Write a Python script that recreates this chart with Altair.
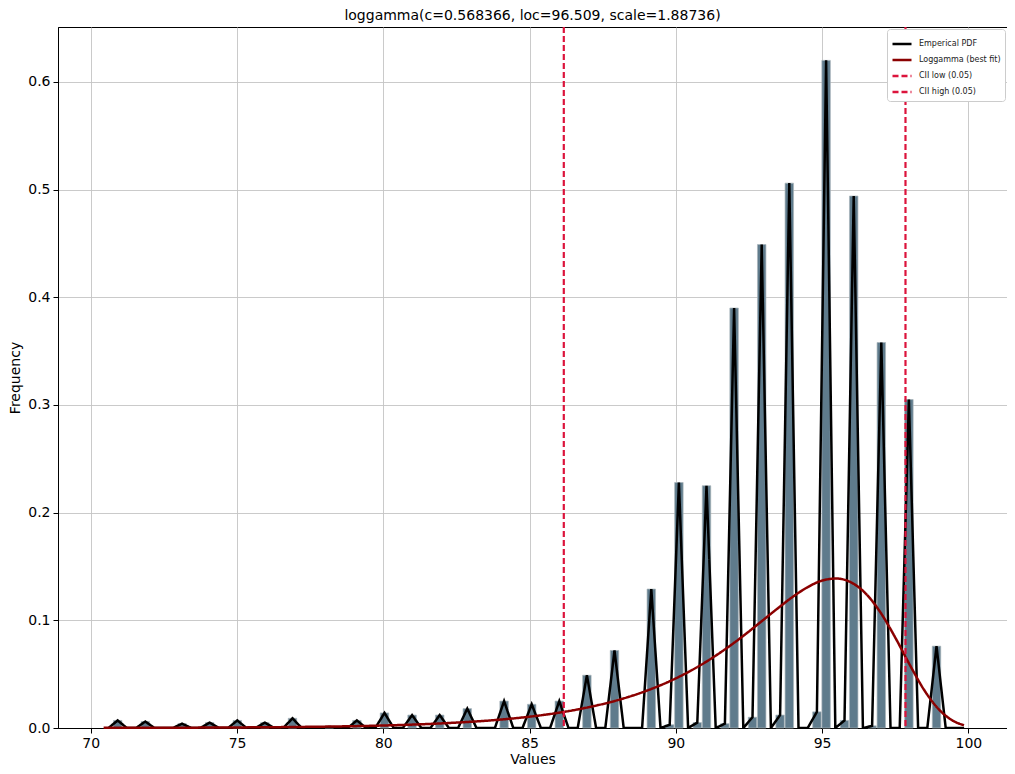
import altair as alt
import pandas as pd

TITLE = "loggamma(c=0.568366, loc=96.509, scale=1.88736)"

# Histogram bins: first bin centre, bin width, heights
BIN_FIRST_CENTER = 70.6055
BIN_WIDTH = 0.3145
HEIGHTS = [
    0.000, 0.007, 0.000, 0.000, 0.006, 0.000, 0.000, 0.000, 0.004, 0.000,
    0.000, 0.005, 0.000, 0.000, 0.007, 0.000, 0.000, 0.005, 0.000, 0.000,
    0.009, 0.000, 0.000, 0.000, 0.001, 0.000, 0.000, 0.007, 0.000, 0.000,
    0.014, 0.000, 0.000, 0.012, 0.000, 0.000, 0.012, 0.000, 0.000, 0.018,
    0.000, 0.000, 0.000, 0.025, 0.000, 0.000, 0.022, 0.000, 0.000, 0.025,
    0.000, 0.000, 0.049, 0.000, 0.000, 0.072, 0.000, 0.000, 0.000, 0.129,
    0.000, 0.003, 0.228, 0.000, 0.005, 0.225, 0.000, 0.004, 0.390, 0.000,
    0.010, 0.449, 0.000, 0.012, 0.506, 0.000, 0.000, 0.015, 0.620, 0.000,
    0.007, 0.494, 0.000, 0.002, 0.358, 0.000, 0.000, 0.305, 0.000, 0.000,
    0.076, 0.000, 0.000, 0.000,
]

# Fitted loggamma curve
FIT_X = [70.44, 72.5, 75.0, 77.5, 80.0, 82.0, 84.0, 85.0, 86.0, 87.0, 88.0,
         89.0, 90.0, 91.0, 91.5, 92.0, 92.5, 93.0, 93.5, 94.0, 94.5, 95.0,
         95.5, 96.0, 96.5, 97.0, 97.5, 98.0, 98.5, 99.0, 99.5, 99.85]
FIT_Y = [0.00013, 0.00025, 0.00052, 0.0011, 0.0023, 0.0043, 0.0078, 0.0105,
         0.0142, 0.0192, 0.0258, 0.0346, 0.0461, 0.0609, 0.0697, 0.0793,
         0.0897, 0.1006, 0.1115, 0.1219, 0.1307, 0.1369, 0.1388, 0.1351,
         0.1246, 0.1071, 0.0840, 0.0585, 0.0348, 0.0170, 0.0063, 0.0026]

CII_LOW = 86.17
CII_HIGH = 97.85

SERIES = ["Emperical PDF", "Loggamma (best fit)", "CII low (0.05)", "CII high (0.05)"]
COLORS = ["#000000", "#8b0000", "#dc143c", "#dc143c"]
DASHES = [[1, 0], [1, 0], [6, 3], [6, 3]]

X_TICKS = [70, 75, 80, 85, 90, 95, 100]
Y_TICKS = [0.0, 0.1, 0.2, 0.3, 0.4, 0.5, 0.6]
X_DOMAIN = [68.88, 101.32]
Y_DOMAIN = [0.0, 0.651]

FONT = "DejaVu Sans"

# ---- tables ----
centers = [BIN_FIRST_CENTER + i * BIN_WIDTH for i in range(len(HEIGHTS))]
hist = pd.DataFrame({"center": centers, "freq": HEIGHTS})
hist["x0"] = hist["center"] - BIN_WIDTH * 0.46
hist["x1"] = hist["center"] + BIN_WIDTH * 0.46
hist["series"] = SERIES[0]
bars_df = hist[hist["freq"] > 0]

fit = pd.DataFrame({"center": FIT_X, "freq": FIT_Y, "series": SERIES[1]})
cii = pd.DataFrame({"xv": [CII_LOW, CII_HIGH], "series": [SERIES[2], SERIES[3]]})

xscale = alt.Scale(domain=X_DOMAIN, nice=False, zero=False)
yscale = alt.Scale(domain=Y_DOMAIN, nice=False, zero=False)

color = alt.Color(
    "series:N",
    scale=alt.Scale(domain=SERIES, range=COLORS),
    sort=SERIES,
    legend=alt.Legend(
        title=None,
        orient="top-right",
        offset=2,
        symbolType="stroke",
        symbolSize=361,
        symbolStrokeWidth=2.5,
        labelFontSize=8,
        labelFont=FONT,
        labelColor="#222222",
        fillColor="white",
        strokeColor="#cccccc",
        padding=4,
        cornerRadius=3,
        rowPadding=-10,
        labelOffset=6,
    ),
)
dash = alt.StrokeDash(
    "series:N",
    scale=alt.Scale(domain=SERIES, range=DASHES),
    sort=SERIES,
    legend=alt.Legend(title=None),
)

x_axis = alt.Axis(values=X_TICKS, format="d", title="Values")
y_axis = alt.Axis(values=Y_TICKS, format=".1f", title="Frequency")

bars = alt.Chart(bars_df).mark_bar(
    color="#5f7b8c", stroke="#a9b4ba", strokeWidth=0.7, opacity=1
).encode(
    x=alt.X("x0:Q", scale=xscale, axis=x_axis),
    x2="x1:Q",
    y=alt.Y("freq:Q", scale=yscale, axis=y_axis),
    y2=alt.datum(0),
)

emp = alt.Chart(hist).mark_line(strokeWidth=2.5, strokeJoin="miter", clip=True).encode(
    x=alt.X("center:Q", scale=xscale, axis=x_axis),
    y=alt.Y("freq:Q", scale=yscale, axis=y_axis),
    color=color,
    strokeDash=dash,
)

fit_line = alt.Chart(fit).mark_line(strokeWidth=2.5, interpolate="monotone").encode(
    x=alt.X("center:Q", scale=xscale),
    y=alt.Y("freq:Q", scale=yscale),
    color=color,
    strokeDash=dash,
)

rules = alt.Chart(cii).mark_rule(strokeWidth=2.2).encode(
    x=alt.X("xv:Q", scale=xscale),
    color=color,
    strokeDash=dash,
)

chart = alt.layer(bars, emp, fit_line, rules).properties(
    width=999,
    height=758,
    autosize=alt.AutoSizeParams(type="fit", contains="padding"),
    padding={"left": 0, "right": 0, "top": 0, "bottom": 0},
    title=alt.Title(TITLE, fontSize=14, font=FONT, fontWeight="normal", offset=3, color="black"),
).configure_view(
    stroke="black", strokeWidth=1
).configure_axis(
    labelFont=FONT,
    titleFont=FONT,
    labelFontSize=14,
    titleFontSize=14,
    titleFontWeight="normal",
    labelColor="black",
    titleColor="black",
    domainColor="black",
    tickColor="black",
    tickSize=5,
    labelPadding=3,
    grid=True,
    gridColor="#c4c4c4",
    gridWidth=0.9,
).configure_axisX(
    titlePadding=2
).configure_axisY(
    titlePadding=5
)

chart.save("out.html", embed_options={"renderer": "svg", "actions": False})
